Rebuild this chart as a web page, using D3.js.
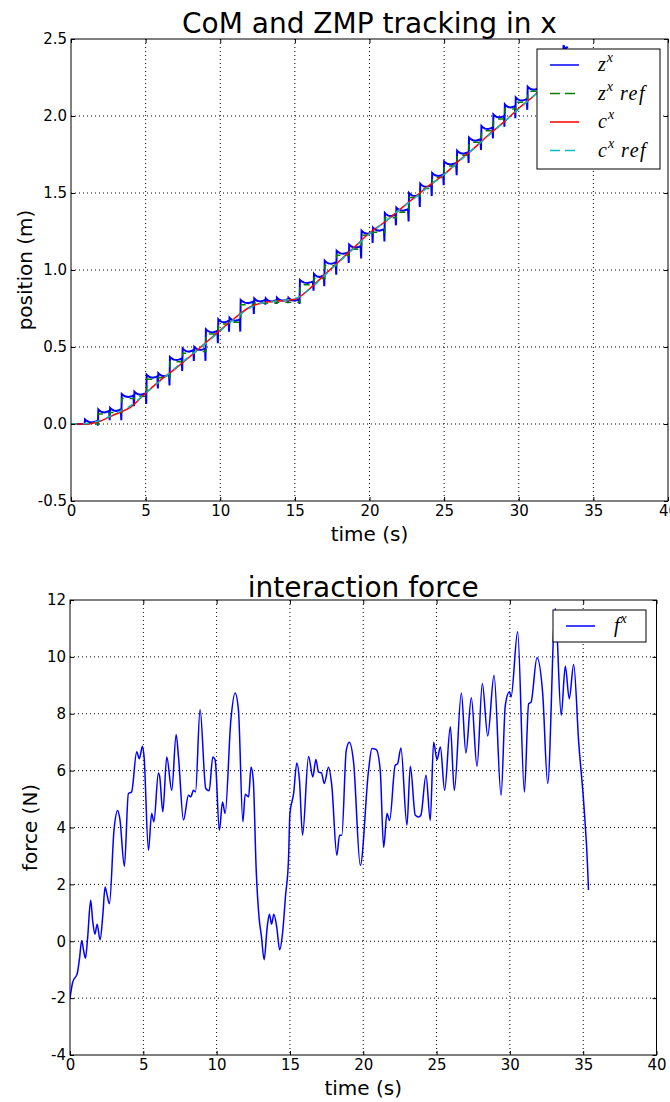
<!DOCTYPE html>
<html>
<head>
<meta charset="utf-8">
<script src="https://cdn.jsdelivr.net/npm/d3@7"></script>
<style>
  body { margin: 0; background: #fff; }
  svg text { font-family: "DejaVu Sans", sans-serif; fill: #000; }
  svg .math { font-family: "Liberation Serif", serif; font-style: italic; }
</style>
</head>
<body>
<svg width="670" height="1102"></svg>
<script>
// --- Data: ZMP steps (top plot) ---
const stepT = [0.94, 1.83, 2.62, 3.4, 4.25, 5.07, 5.85, 6.63, 7.48, 8.26, 9.04, 9.87, 10.62, 11.37, 12.28,
  13.05, 13.8, 14.57, 15.34, 16.28, 17.0, 17.8, 18.64, 19.47, 20.24, 21.03, 21.8, 22.65, 23.4, 24.2, 25.0,
  25.87, 26.67, 27.5, 28.3, 29.07, 29.8, 30.6, 31.4, 32.2, 33.0];
const stepZ = [0, 0.065, 0.075, 0.165, 0.18, 0.29, 0.30, 0.405, 0.46, 0.47, 0.585, 0.65, 0.66, 0.775, 0.785,
  0.785, 0.79, 0.79, 0.905, 0.945, 1.03, 1.095, 1.135, 1.225, 1.245, 1.34, 1.375, 1.47, 1.53, 1.60, 1.675,
  1.745, 1.83, 1.905, 1.98, 2.045, 2.09, 2.16, 2.23, 2.30, 2.43];
// depth of the ZMP spike just before the next step
const zmpDip = [0.01, 0.04, 0.05, 0.05, 0.05, 0.06, 0.05, 0.06, 0.05, 0.06, 0.06, 0.05, 0.06, 0.06, 0.01,
  0.005, 0.005, 0.01, 0.04, 0.05, 0.06, 0.05, 0.06, 0.05, 0.06, 0.05, 0.06, 0.06, 0.05, 0.05, 0.06,
  0.05, 0.05, 0.05, 0.05, 0.06, 0.05, 0.05, 0.05, 0.05, 0];
// ZMP profile over one step: [fraction of step, offset above the reference]
const zmpCap = [[0, 0.03], [0.1, 0.022], [0.3, 0.013], [0.55, 0.01], [0.8, 0.016], [0.92, 0.02]];
const zmpEnd = 33.3;

// --- Data: CoM (top plot) ---
const comT = [0, 1, 2, 3, 4, 5, 6, 7, 8, 9, 10, 11, 12, 13, 14, 15, 16, 17, 18, 19, 20,
  21, 22, 23, 24, 25, 26, 27, 28, 29, 30, 31, 32, 33];
const comX = [0, 0.0, 0.02, 0.065, 0.11, 0.2, 0.285, 0.36, 0.44, 0.525, 0.61, 0.69, 0.76, 0.79, 0.80, 0.81,
  0.88, 0.97, 1.06, 1.15, 1.24, 1.31, 1.39, 1.47, 1.55, 1.62, 1.71, 1.79, 1.88, 1.96, 2.05, 2.13, 2.22, 2.31];
const comRef = [0, 0.003, 0.025, 0.07, 0.12, 0.2, 0.28, 0.365, 0.445, 0.52, 0.605, 0.685, 0.755, 0.79, 0.80, 0.815,
  0.875, 0.965, 1.055, 1.145, 1.235, 1.31, 1.39, 1.465, 1.545, 1.62, 1.705, 1.79, 1.875, 1.96, 2.045, 2.13, 2.215, 2.3];

// --- Data: interaction force (bottom plot) ---
const forceT = [0.0, 0.18, 0.5, 0.65, 0.8, 0.92, 1.05, 1.2, 1.41, 1.55, 1.7, 1.85, 2.05, 2.25, 2.39, 2.5, 2.69,
  3.0, 3.25, 3.4, 3.71, 3.98, 4.2, 4.55, 4.73, 4.94, 5.05, 5.35, 5.57, 5.72, 6.03, 6.12, 6.33, 6.6, 6.94,
  7.24, 7.4, 7.74, 8.08, 8.24, 8.42, 8.56, 8.87, 9.26, 9.49, 9.74, 9.9, 10.19, 10.4, 10.58, 10.97, 11.26,
  11.49, 11.79, 11.95, 12.18, 12.35, 12.5, 12.7, 12.9, 13.05, 13.24, 13.45, 13.6, 13.75, 13.9, 14.1, 14.3,
  14.5, 14.7, 14.9, 15.0, 15.25, 15.47, 15.65, 15.86, 16.27, 16.56, 16.77, 16.95, 17.15, 17.34, 17.63,
  17.85, 18.2, 18.38, 18.54, 18.84, 19.05, 19.34, 19.8, 20.36, 20.59, 20.89, 21.16, 21.39, 21.62, 21.8,
  22.18, 22.34, 22.57, 22.98, 23.21, 23.55, 23.78, 23.93, 24.28, 24.57, 24.8, 25.03, 25.26, 25.55, 25.94,
  26.21, 26.69, 27.0, 27.37, 27.76, 28.12, 28.49, 28.92, 29.4, 29.69, 29.97, 30.08, 30.53, 30.99, 31.28,
  31.44, 31.85, 32.24, 32.58, 33.1, 33.5, 33.78, 34.05, 34.35, 34.7, 35.04, 35.31, 35.36];
const forceV = [-2.0, -1.45, -1.12, -0.6, 0.03, -0.3, -0.6, 0.1, 1.44, 0.7, 0.25, 0.6, 0.05, 1.0, 1.91, 1.7, 1.32,
  3.9, 4.6, 4.3, 2.64, 5.19, 5.25, 6.66, 6.42, 6.86, 6.5, 3.2, 4.49, 4.2, 5.92, 5.78, 4.55, 6.48, 5.31,
  7.27, 6.48, 4.26, 5.13, 5.08, 5.31, 5.25, 8.15, 5.37, 5.29, 6.48, 6.37, 3.9, 4.9, 4.49, 7.77, 8.73,
  8.12, 4.2, 5.17, 5.08, 6.13, 5.66, 2.5, 0.8, 0.2, -0.65, 0.5, 0.95, 0.6, 0.95, 0.5, -0.3,
  0.3, 1.6, 2.85, 4.49, 5.19, 6.27, 5.66, 3.73, 6.5, 5.78, 6.39, 5.95, 5.92, 5.55, 6.12,
  5.5, 3.02, 3.73, 3.73, 6.71, 7.0, 6.3, 2.67, 6.0, 6.78, 6.74, 6.0, 3.3, 4.49, 4.25,
  6.19, 6.24, 6.8, 4.08, 6.15, 4.43, 4.37, 4.43, 5.84, 4.25, 7.0, 6.39, 6.83, 5.3, 7.54,
  5.3, 8.73, 6.62, 8.56, 6.15, 9.06, 7.22, 9.35, 5.13, 8.3, 8.77, 8.59, 10.88, 5.25, 8.35,
  8.4, 9.97, 8.7, 5.55, 11.7, 7.95, 9.67, 8.53, 9.73, 6.95, 4.84, 2.5, 1.8];

// --- Tick values ---
const timeTicks = [0, 5, 10, 15, 20, 25, 30, 35, 40];
const posTicks = [-0.5, 0.0, 0.5, 1.0, 1.5, 2.0, 2.5];
const forceTicks = [-4, -2, 0, 2, 4, 6, 8, 10, 12];

const svg = d3.select('svg');

// --- Panel: frame, grid, ticks, labels ---
function panel(id, x, y, xTicks, yTicks, yFmt, title, ylabel, ylabelX, titleGap) {
  const [xl, xr] = x.range();
  const [yb, yt] = y.range();
  const g = svg.append('g');

  g.append('clipPath').attr('id', id)
    .append('rect').attr('x', xl).attr('y', yt).attr('width', xr - xl).attr('height', yb - yt);

  // dotted grid
  g.append('g').selectAll('line').data(xTicks.slice(1, -1)).join('line')
    .attr('x1', d => x(d)).attr('x2', d => x(d)).attr('y1', yt).attr('y2', yb)
    .attr('stroke', '#000').attr('stroke-width', 1).attr('stroke-dasharray', '1,3');
  g.append('g').selectAll('line').data(yTicks.slice(1, -1)).join('line')
    .attr('y1', d => y(d)).attr('y2', d => y(d)).attr('x1', xl).attr('x2', xr)
    .attr('stroke', '#000').attr('stroke-width', 1).attr('stroke-dasharray', '1,3');

  const plot = g.append('g').attr('clip-path', `url(#${id})`);
  const over = svg.append('g');

  over.append('rect')
    .attr('x', xl).attr('y', yt).attr('width', xr - xl).attr('height', yb - yt)
    .attr('fill', 'none').attr('stroke', '#000').attr('stroke-width', 1);

  const style = sel => {
    sel.select('.domain').remove();
    sel.selectAll('line').attr('stroke', '#000');
    sel.selectAll('text').style('font-size', '15px').style('font-family', '"DejaVu Sans", sans-serif');
  };
  over.append('g').attr('transform', `translate(0,${yb})`)
    .call(d3.axisBottom(x).tickValues(xTicks).tickSize(-4).tickPadding(4).tickFormat(d => String(d)))
    .call(style);
  over.append('g').attr('transform', `translate(0,${yt})`)
    .call(d3.axisTop(x).tickValues(xTicks).tickSize(-4).tickFormat(''))
    .call(style);
  over.append('g').attr('transform', `translate(${xl},0)`)
    .call(d3.axisLeft(y).tickValues(yTicks).tickSize(-4).tickPadding(4).tickFormat(yFmt))
    .call(style);
  over.append('g').attr('transform', `translate(${xr},0)`)
    .call(d3.axisRight(y).tickValues(yTicks).tickSize(-4).tickFormat(''))
    .call(style);

  over.append('text')
    .attr('x', (xl + xr) / 2).attr('y', yt - titleGap)
    .attr('text-anchor', 'middle').style('font-size', '28px')
    .text(title);
  over.append('text')
    .attr('x', (xl + xr) / 2).attr('y', yb + 40)
    .attr('text-anchor', 'middle').style('font-size', '20px')
    .text('time (s)');
  over.append('text')
    .attr('transform', `translate(${ylabelX},${(yt + yb) / 2}) rotate(-90)`)
    .attr('text-anchor', 'middle').attr('dy', '0.35em').style('font-size', '20px')
    .text(ylabel);

  return { plot, over };
}

// --- Legend ---
function legend(over, box, items) {
  const lg = over.append('g');
  lg.append('rect')
    .attr('x', box.x).attr('y', box.y).attr('width', box.w).attr('height', box.h)
    .attr('fill', '#fff').attr('stroke', '#000').attr('stroke-width', 1);
  items.forEach((it, i) => {
    const ly = box.y + box.first + i * box.step;
    lg.append('line')
      .attr('x1', box.x + 13).attr('x2', box.x + 42).attr('y1', ly).attr('y2', ly)
      .attr('stroke', it.color).attr('stroke-width', 1.5)
      .attr('stroke-dasharray', it.dash || null);
    const t = lg.append('text').attr('class', 'math')
      .attr('x', box.x + 61).attr('y', ly + 6).style('font-size', '20px');
    t.append('tspan').text(it.base);
    t.append('tspan').attr('dy', -9).attr('dx', 1).style('font-size', '14px').text('x');
    if (it.tail) t.append('tspan').attr('dy', 9).attr('dx', 7)
      .style('letter-spacing', '1.5px').text('ref');
  });
}

// ===== Top plot: CoM and ZMP tracking =====
const xTop = d3.scaleLinear().domain([0, 40]).range([71, 668]);
const yTop = d3.scaleLinear().domain([-0.5, 2.5]).range([501, 39]);
const topPanel = panel('clipTop', xTop, yTop, timeTicks, posTicks, d => d.toFixed(1),
  'CoM and ZMP tracking in x', 'position (m)', 25, 6);

// ZMP trace built from the step data
const zmpPts = [[0, 0], [stepT[0] - 0.03, 0]];
stepT.forEach((t0, k) => {
  const t1 = k + 1 < stepT.length ? stepT[k + 1] : zmpEnd;
  zmpCap.forEach(([f, dz]) => zmpPts.push([t0 + f * (t1 - t0), stepZ[k] + dz]));
  if (k + 1 < stepT.length) zmpPts.push([t1 - 0.03, stepZ[k] - zmpDip[k]]);
});
const refPts = [[0, 0]].concat(stepT.map((t, k) => [t, stepZ[k]]), [[zmpEnd, stepZ[stepZ.length - 1]]]);

const lineTop = d3.line().x(d => xTop(d[0])).y(d => yTop(d[1]));

topPanel.plot.append('path').datum(zmpPts)
  .attr('d', lineTop).attr('fill', 'none').attr('stroke', '#0000ff').attr('stroke-width', 2);
topPanel.plot.append('path').datum(refPts)
  .attr('d', lineTop.curve(d3.curveStepAfter)).attr('fill', 'none')
  .attr('stroke', '#008000').attr('stroke-width', 1.5).attr('stroke-dasharray', '6,6');
lineTop.curve(d3.curveMonotoneX);
topPanel.plot.append('path').datum(comT.map((t, i) => [t, comX[i]]))
  .attr('d', lineTop).attr('fill', 'none').attr('stroke', '#ff0000').attr('stroke-width', 1.5);
topPanel.plot.append('path').datum(comT.map((t, i) => [t, comRef[i]]))
  .attr('d', lineTop).attr('fill', 'none')
  .attr('stroke', '#00bfbf').attr('stroke-width', 1.5).attr('stroke-dasharray', '6,6');

legend(topPanel.over, { x: 537, y: 49, w: 123, h: 120, first: 16, step: 28.5 }, [
  { color: '#0000ff', base: 'z' },
  { color: '#008000', base: 'z', tail: true, dash: '10,5' },
  { color: '#ff0000', base: 'c' },
  { color: '#00bfbf', base: 'c', tail: true, dash: '10,5' }
]);

// ===== Bottom plot: interaction force =====
const xBot = d3.scaleLinear().domain([0, 40]).range([70, 656.5]);
const yBot = d3.scaleLinear().domain([-4, 12]).range([1055, 600]);
const botPanel = panel('clipBottom', xBot, yBot, timeTicks, forceTicks, d => String(d),
  'interaction force', 'force (N)', 30, 3);

botPanel.plot.append('path').datum(forceT.map((t, i) => [t, forceV[i]]))
  .attr('d', d3.line().x(d => xBot(d[0])).y(d => yBot(d[1])).curve(d3.curveMonotoneX))
  .attr('fill', 'none').attr('stroke', '#0000ff').attr('stroke-width', 1.5);

legend(botPanel.over, { x: 553, y: 610, w: 93, h: 32, first: 16, step: 0 }, [
  { color: '#0000ff', base: 'f' }
]);
</script>
</body>
</html>
